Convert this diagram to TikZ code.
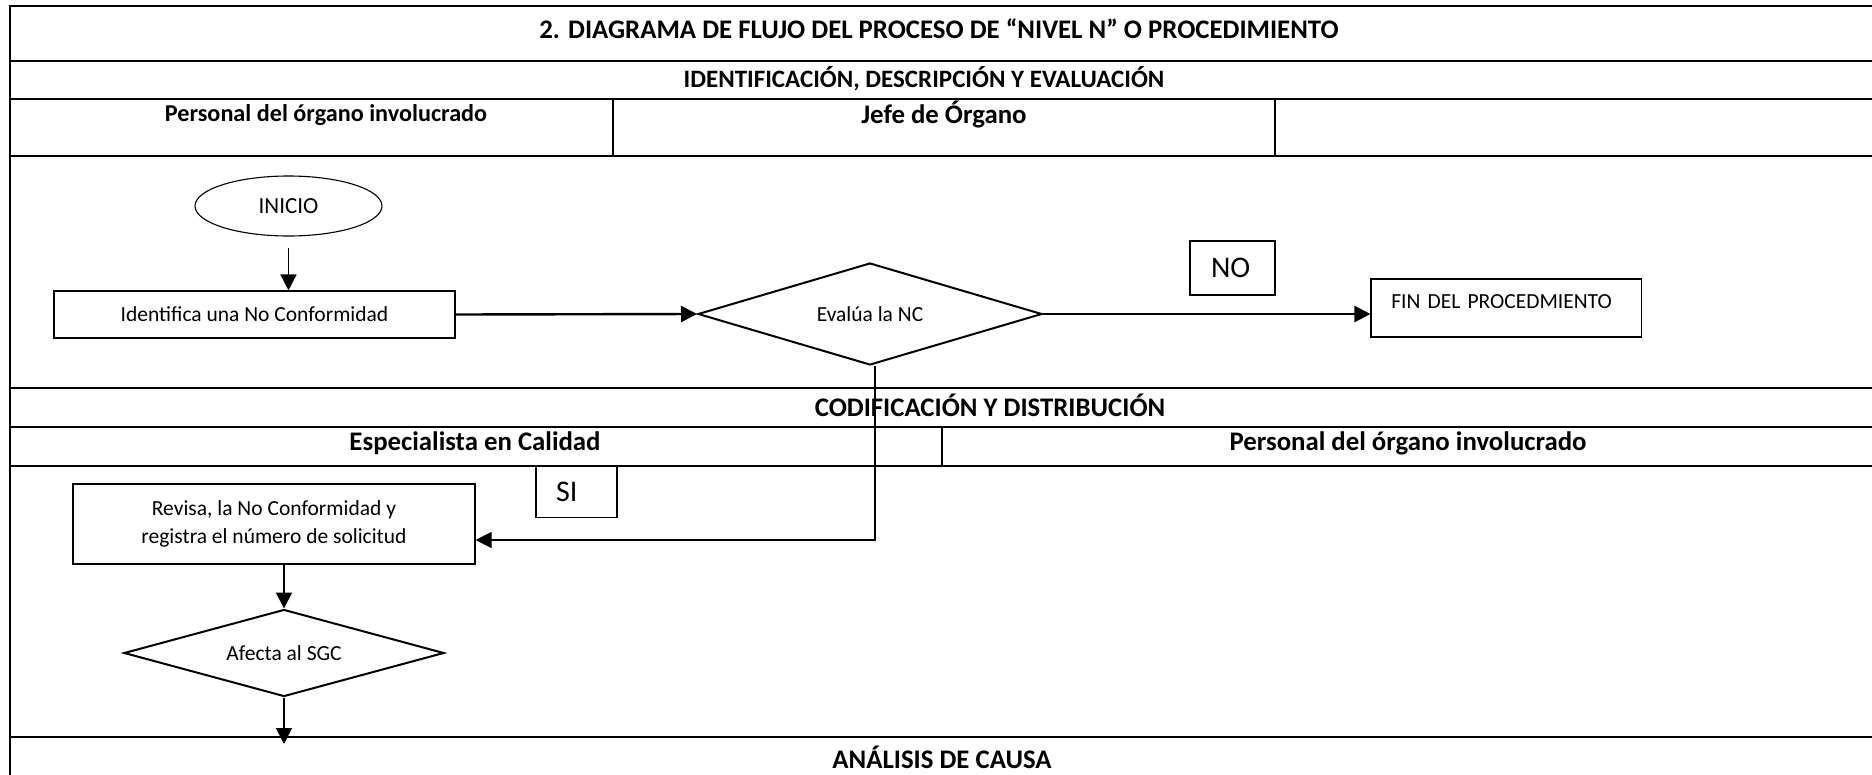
\documentclass[tikz,border=0pt]{standalone}
\usepackage{fontspec}
\setmainfont{Carlito}
\usetikzlibrary{shapes.geometric,arrows.meta}
\begin{document}
\begin{tikzpicture}[x=1pt,y=-1pt,
  grid/.style={line width=2pt},
  hdr/.style={font=\bfseries\fontsize{26.8}{30}\selectfont, inner sep=0pt},
  box/.style={draw, line width=1.1pt, rectangle, inner sep=0pt, font=\fontsize{21.5}{27.5}\selectfont, align=center},
  dec/.style={draw, diamond, line width=2pt, inner sep=0pt, font=\fontsize{21.5}{25}\selectfont},
  lbl/.style={draw, line width=1.3pt, inner sep=0pt, font=\fontsize{30}{34}\selectfont, align=left},
  arr/.style={-{Triangle[length=16pt,width=16pt]}, line width=1.5pt},
  arrthick/.style={-{Triangle[length=16pt,width=16pt]}, line width=2.4pt},
]
\useasboundingbox (0,0) rectangle (1872,774);
% table frame
\draw[grid] (9.5,5) -- (9.5,780);
\foreach \yy in {6,61,99,156,388,427,466,737}
  \draw[grid] (8.5,\yy) -- (1880,\yy);
\draw[grid] (612.5,99) -- (612.5,156);
\draw[grid] (1275,99) -- (1275,156);
\draw[grid] (942,427) -- (942,466);
% headers
\node[hdr] (title) at (939,29) {2. DIAGRAMA DE FLUJO DEL PROCESO DE “NIVEL N” O PROCEDIMIENTO};
\node[hdr, font=\bfseries\fontsize{25}{29}\selectfont] (sec1) at (924,79) {IDENTIFICACIÓN, DESCRIPCIÓN Y EVALUACIÓN};
\node[hdr, font=\bfseries\fontsize{24.2}{28}\selectfont] (lane1) at (326,115) {Personal del órgano involucrado};
\node[hdr] (lane2) at (944,115) {Jefe de Órgano};
\node[hdr] (sec2) at (990,405) {CODIFICACIÓN Y DISTRIBUCIÓN};
\node[hdr] (lane3) at (475,443) {Especialista en Calidad};
\node[hdr] (lane4) at (1408,443) {Personal del órgano involucrado};
\node[hdr] (sec3) at (942,757) {ANÁLISIS DE CAUSA};
% flow
\node[draw, ellipse, line width=1.1pt, minimum width=187pt, minimum height=60pt, inner sep=0pt, font=\fontsize{23}{26}\selectfont] (inicio) at (288.5,206) {INICIO};
\node[box, minimum width=401pt, minimum height=47pt] (ident) at (254.5,314.5) {Identifica una No Conformidad};
\node[dec, shape aspect=3.4, minimum width=344pt, minimum height=102pt] (eval) at (870,314) {Evalúa la NC};
\node[lbl, minimum width=85pt, minimum height=54pt, text width=43pt, inner xsep=21pt] (no) at (1232.5,268) {NO};
\node[box, minimum width=270.5pt, minimum height=58pt, text width=230pt, align=left, inner xsep=20pt, text depth=13pt] (fin) at (1506.25,308) {FIN DEL PROCEDMIENTO};
\node[lbl, minimum width=81pt, minimum height=51pt, text width=41pt, inner xsep=20pt] (si) at (576.5,492) {SI};
\node[box, minimum width=402pt, minimum height=80pt] (revisa) at (274,524) {Revisa, la No Conformidad y\\registra el número de solicitud};
\node[dec, shape aspect=3.7, minimum width=320pt, minimum height=87pt] (afecta) at (284,653) {Afecta al SGC};
\coordinate (siturn) at (875,540);
\coordinate (cont) at (284,744);
% connectors
\draw[arr, shorten <=11pt] (inicio.south) -- (ident.north -| inicio.south);
\draw[arrthick] (ident.east) -- (eval.west);
\draw[arrthick] (eval.east) -- (fin.west |- eval.east);
\draw[arr, line width=1.2pt] (siturn |- eval.south) -- (siturn) -- (revisa.east |- siturn);
\draw[arr] (revisa.south -| afecta.north) -- (afecta.north);
\draw[arr] (afecta.south) -- (cont);
\end{tikzpicture}
\end{document}
